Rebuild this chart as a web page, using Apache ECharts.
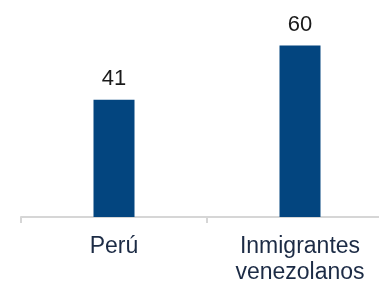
<!DOCTYPE html>
<html>
<head>
<meta charset="utf-8">
<script src="https://cdn.jsdelivr.net/npm/echarts@6/dist/echarts.min.js"></script>
<style>
  html, body { margin: 0; padding: 0; background: #fff; }
  #chart { width: 379px; height: 282px; }
</style>
</head>
<body>
<div id="chart"></div>
<script>
// datos
const categorias = ['Perú', 'Inmigrantes\nvenezolanos'];
const valores = [41, 60];

const chart = echarts.init(document.getElementById('chart'));
const option = {
  animation: false,
  textStyle: { fontFamily: 'Liberation Sans, Arial, sans-serif' },
  grid: {
    left: 21, width: 372, top: 17, bottom: 65,
    containLabel: false,
    outerBoundsMode: 'none'
  },
  xAxis: {
    type: 'category',
    data: categorias,
    axisLine: { lineStyle: { color: '#d6d6d6', width: 2 } },
    axisTick: { show: true, length: 6, lineStyle: { color: '#d6d6d6', width: 2 } },
    axisLabel: {
      color: '#1c2b45',
      fontSize: 23,
      lineHeight: 26,
      margin: 17,
      interval: 0
    }
  },
  yAxis: {
    type: 'value',
    min: 0,
    max: 70,
    show: false,
    splitLine: { show: false }
  },
  series: [{
    type: 'bar',
    data: valores,
    barWidth: 41,
    itemStyle: { color: '#03457f' },
    label: {
      show: true,
      position: 'top',
      distance: 10,
      color: '#1a1a1a',
      fontSize: 22
    }
  }]
};
chart.setOption(option);
</script>
</body>
</html>
